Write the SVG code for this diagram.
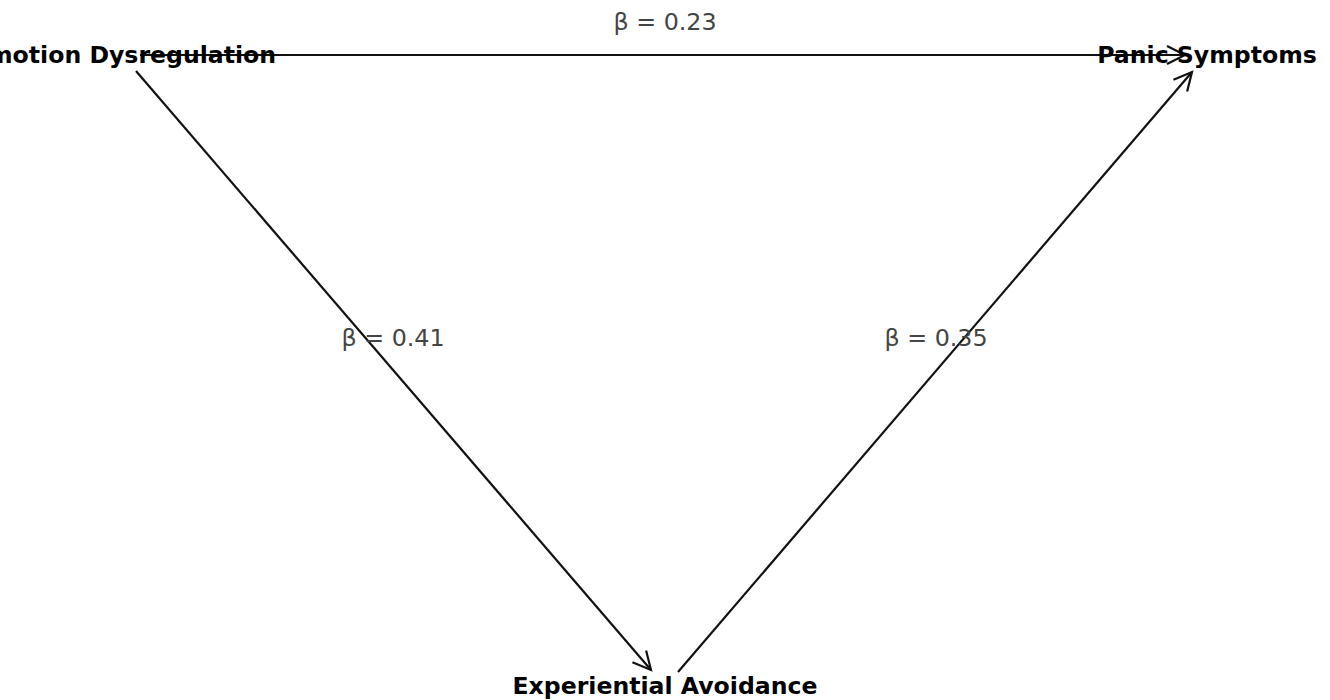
<svg xmlns="http://www.w3.org/2000/svg" width="1330" height="700" viewBox="0 0 1330 700">
<style>
.node{font-family:"DejaVu Sans",sans-serif;font-weight:bold;font-size:23.6px;fill:#000;text-anchor:middle;dominant-baseline:central}
.lbl{font-family:"DejaVu Sans",sans-serif;font-size:23.8px;fill:#444;text-anchor:middle;dominant-baseline:central}
.edge{stroke:#111;stroke-width:2.2;fill:none;marker-end:url(#arr)}
</style>
<defs>
<marker id="arr" markerUnits="userSpaceOnUse" viewBox="-22 -12 26 24" markerWidth="26" markerHeight="24" refX="0" refY="0" orient="auto">
<path d="M -18 -9 L 0 0 L -18 9" fill="none" stroke="#111" stroke-width="2.2" stroke-linejoin="miter"/>
</marker>
</defs>
<rect width="1330" height="700" fill="#fff"/>
<g id="edges">
<line class="edge" x1="140" y1="55" x2="1185" y2="55"/>
<line class="edge" x1="136" y1="71" x2="651" y2="670"/>
<line class="edge" x1="678" y1="672" x2="1192" y2="72"/>
</g>
<g id="edge-labels">
<text class="lbl" x="665" y="22">β = 0.23</text>
<text class="lbl" x="393" y="338">β = 0.41</text>
<text class="lbl" x="936" y="338">β = 0.35</text>
</g>
<g id="node-ed"><text class="node" x="124" y="55">Emotion Dysregulation</text></g>
<g id="node-ps"><text class="node" x="1207" y="55">Panic Symptoms</text></g>
<g id="node-ea"><text class="node" x="665" y="686">Experiential Avoidance</text></g>
</svg>
